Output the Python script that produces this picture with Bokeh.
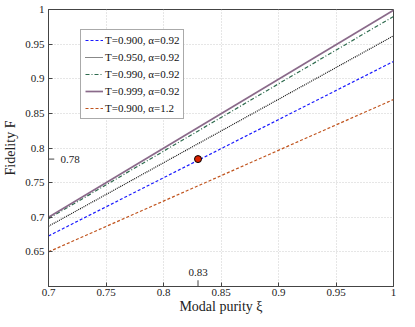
from bokeh.plotting import figure
from bokeh.embed import file_html
from bokeh.resources import INLINE
from bokeh.models import FixedTicker, Legend, LegendItem
from bokeh.core.properties import value

# Data
xi = [0.7, 1.0]
f_t900 = [0.673, 0.925]
f_t950 = [0.687, 0.962]
f_t990 = [0.698, 0.990]
f_t999 = [0.700, 0.999]
f_t900_a12 = [0.650, 0.870]
labels = ["T=0.900, α=0.92", "T=0.950, α=0.92", "T=0.990, α=0.92",
          "T=0.999, α=0.92", "T=0.900, α=1.2"]
marker_x = [0.83]
marker_y = [0.784]
x_ticks = [0.7, 0.75, 0.8, 0.85, 0.9, 0.95, 1.0]
y_ticks = [0.65, 0.7, 0.75, 0.8, 0.85, 0.9, 0.95, 1.0]

FONT = "Liberation Serif"

p = figure(width=399, height=316, x_range=(0.7, 1.0), y_range=(0.6, 1.0),
           output_backend="svg", toolbar_location=None,
           min_border_left=38, min_border_right=6, min_border_top=9, min_border_bottom=20)
p.background_fill_color = "white"
p.border_fill_color = "white"
p.outline_line_color = "#444444"
p.outline_line_width = 1

for ax in (p.xaxis[0], p.yaxis[0]):
    ax.major_tick_in = 4
    ax.major_tick_out = 0
    ax.minor_tick_in = 0
    ax.minor_tick_out = 0
    ax.axis_line_color = "#444444"
    ax.major_tick_line_color = "#444444"
    ax.major_label_text_font = FONT
    ax.major_label_text_font_size = "11px"
    ax.major_label_text_color = "#222222"
    ax.axis_label_text_font = FONT
    ax.axis_label_text_font_size = "14px"
    ax.axis_label_text_font_style = "normal"
    ax.axis_label_text_color = "#222222"

p.xaxis.ticker = FixedTicker(ticks=x_ticks)
p.yaxis.ticker = FixedTicker(ticks=y_ticks)
p.xaxis.major_label_overrides = {1.0: "1", 0.9: "0.9", 0.8: "0.8", 0.7: "0.7"}
p.yaxis.major_label_overrides = {1.0: "1", 0.9: "0.9", 0.8: "0.8", 0.7: "0.7"}
p.xaxis.axis_label = "Modal purity ξ"
p.yaxis.axis_label = "Fidelity F"
p.xaxis.major_label_standoff = 2
p.xaxis.axis_label_standoff = 0
p.yaxis.major_label_standoff = 4
p.yaxis.axis_label_standoff = 4

p.grid.grid_line_color = "#cccccc"
p.grid.grid_line_dash = "1 2"
p.grid.grid_line_width = 1

r1 = p.line(xi, f_t900, line_color="#1a1aff", line_dash="3 2", line_width=1.2)
r2 = p.line(xi, f_t950, line_color="#111111", line_dash="1 1", line_width=1.2)
r3 = p.line(xi, f_t990, line_color="#2e6b4e", line_dash="4 2 1 2", line_width=1.2)
r4 = p.line(xi, f_t999, line_color="#8a6a8a", line_width=1.7)
r5 = p.line(xi, f_t900_a12, line_color="#c0541e", line_dash="3 2", line_width=1.2)

p.scatter(marker_x, marker_y, size=7, fill_color="#dd2200", line_color="black", line_width=1)

# tick marks and labels for the marked point
p.segment(x0=[0.7], y0=marker_y, x1=[0.705], y1=marker_y, line_color="#444444")
p.segment(x0=marker_x, y0=[0.6], x1=marker_x, y1=[0.609], line_color="#444444")
p.text(x=[0.7], y=marker_y, text=[f"{marker_y[0]:.2f}"], x_offset=12,
       text_font=value(FONT), text_font_size="11px", text_baseline="middle",
       text_align="left", text_color="#222222")
p.text(x=marker_x, y=[0.6], text=[f"{marker_x[0]:.2f}"], y_offset=-14,
       text_font=value(FONT), text_font_size="11px", text_baseline="middle",
       text_align="center", text_color="#222222")

legend = Legend(items=[LegendItem(label=labels[i], renderers=[r])
                       for i, r in enumerate([r1, r2, r3, r4, r5])],
                location=(32, 167))
legend.label_text_font = FONT
legend.label_text_font_size = "11px"
legend.label_text_color = "#111111"
legend.glyph_width = 18
legend.glyph_height = 12
legend.label_height = 12
legend.spacing = 5
legend.padding = 4
legend.margin = 0
legend.label_standoff = 2
legend.border_line_color = "#555555"
legend.background_fill_alpha = 1
p.add_layout(legend)

open("out.html", "w").write(file_html(p, INLINE))
